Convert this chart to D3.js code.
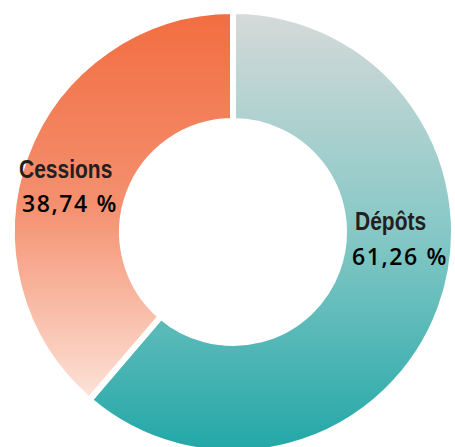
<!DOCTYPE html>
<html><head><meta charset="utf-8">
<script src="https://cdn.jsdelivr.net/npm/d3@7"></script>
<style>html,body{margin:0;padding:0;background:#fff;overflow:hidden}</style>
</head><body>
<svg id="c" width="455" height="447"></svg>
<script>
const categories = ["Dépôts", "Cessions"];
const values = [61.26, 38.74];
const valueLabels = ["61,26 %", "38,74 %"];

const W = 455, H = 447;
const cx = 233, cy = 232, rOuter = 221, rInner = 111;
const svg = d3.select("#c");
const defs = svg.append("defs");

const gradStops = [
  [["0%", "#d6dad9"], ["50%", "#86c8c6"], ["100%", "#21a7a7"]],
  [["0%", "#f26d40"], ["50%", "#f4906f"], ["100%", "#fde3d9"]]
];
gradStops.forEach((stops, i) => {
  const g = defs.append("linearGradient").attr("id", "g" + i)
    .attr("x1", 0).attr("y1", 0).attr("x2", 0).attr("y2", 1);
  stops.forEach(s => g.append("stop").attr("offset", s[0]).attr("stop-color", s[1]));
});

const pie = d3.pie().sort(null).value(d => d)(values);
const arc = d3.arc().innerRadius(rInner).outerRadius(rOuter);
const g = svg.append("g").attr("transform", `translate(${cx},${cy})`);
g.selectAll("path").data(pie).join("path")
  .attr("d", arc)
  .attr("fill", (d, i) => `url(#g${i})`)
  .attr("stroke", "#fff").attr("stroke-width", 6).attr("stroke-linejoin", "miter");

const namePos = [[122, -2], [-214, -54]];
const valPos = [[119, 33], [-211, -20]];
const lab = g.selectAll("g.lab").data(pie).join("g").attr("class", "lab");
lab.append("text").text((d, i) => categories[i])
  .attr("transform", (d, i) => `translate(${namePos[i][0]},${namePos[i][1]}) scale(0.84,1)`)
  .attr("font-family", "'Liberation Sans', Arial, sans-serif")
  .attr("font-weight", "bold").attr("font-size", 25).attr("fill", "#231f20");
lab.append("text").text((d, i) => valueLabels[i])
  .attr("x", (d, i) => valPos[i][0]).attr("y", (d, i) => valPos[i][1])
  .attr("font-family", "'Open Sans', sans-serif").attr("letter-spacing", 1.6)
  .attr("font-weight", 600).attr("font-size", 23).attr("fill", "#000");
</script>
</body></html>
